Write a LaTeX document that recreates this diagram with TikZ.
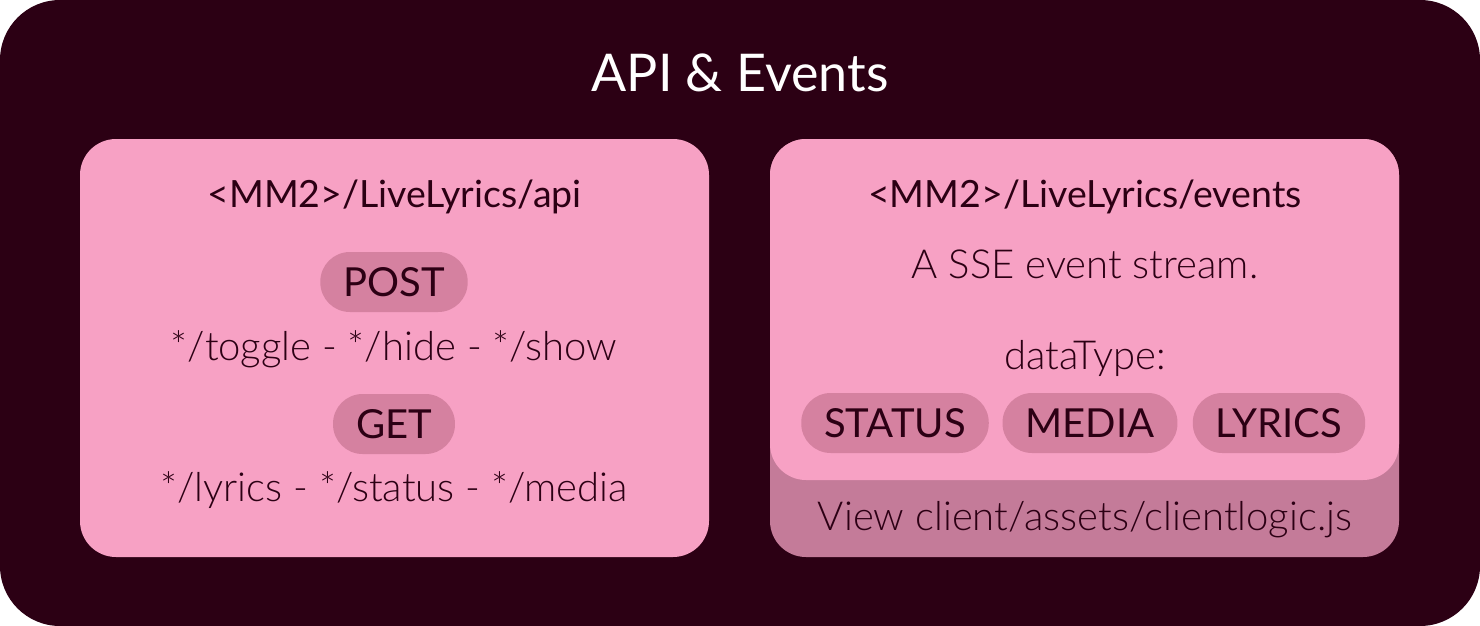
\documentclass[tikz,border=0pt]{standalone}
\usepackage{fontspec}
\setmainfont{Lato}
\newfontfamily\lightfont{Lato Light}
\definecolor{bgdark}{HTML}{2C0014}
\definecolor{pinkbox}{HTML}{F7A1C4}
\definecolor{pillc}{HTML}{D581A0}
\definecolor{footc}{HTML}{C47B99}
\tikzset{
  pill/.style={fill=pillc, rounded corners=29.5pt, minimum height=60pt, inner xsep=23pt, text=bgdark, font=\fontsize{40}{44}\selectfont},
  heading/.style={text=bgdark, font=\fontsize{37.5}{42}\selectfont},
  plain/.style={text=bgdark, font=\lightfont\fontsize{40}{44}\selectfont},
}
\begin{document}
\begin{tikzpicture}[x=1pt,y=-1pt]
\useasboundingbox (0,0) rectangle (1480,626);
\fill[bgdark, rounded corners=60pt] (0,0) rectangle (1480,626);
\node[text=white, font=\fontsize{52}{56}\selectfont] (title) at (740,73) {API \& Events};
% left box
\fill[pinkbox, rounded corners=36pt] (80,139) rectangle (709,557);
\node[heading] (apih) at (394.5,197) {<MM2>/LiveLyrics/api};
\node[pill] (post) at (394,282) {POST};
\node[plain] (postl) at (394,349.5) {*/toggle - */hide - */show};
\node[pill] (get) at (394,424) {GET};
\node[plain] (getl) at (394,490.5) {*/lyrics - */status - */media};
% right box
\fill[footc, rounded corners=36pt] (770,139) rectangle (1399,557);
\fill[pinkbox, rounded corners=36pt] (770,139) rectangle (1399,480);
\node[heading] (evh) at (1085,197) {<MM2>/LiveLyrics/events};
\node[plain] (sse) at (1085,264.5) {A SSE event stream.};
\node[plain] (dt) at (1085,358.5) {dataType:};
\node[pill] (status) at (895,423) {STATUS};
\node[pill] (media) at (1090,423) {MEDIA};
\node[pill] (lyrics) at (1279,423) {LYRICS};
\node[plain] (view) at (1085,519.5) {View client/assets/clientlogic.js};
\end{tikzpicture}
\end{document}
